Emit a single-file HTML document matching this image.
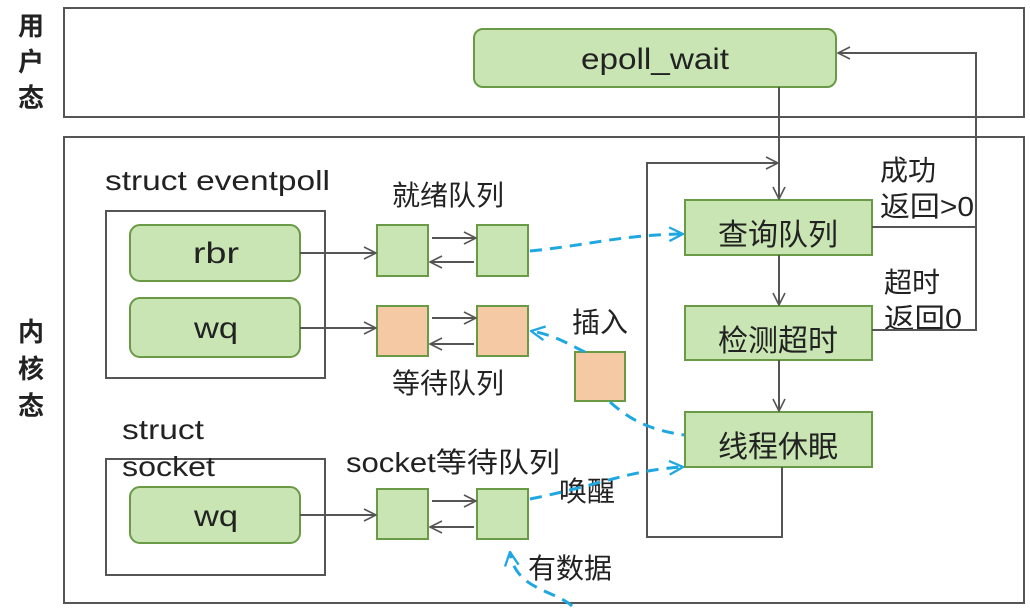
<!DOCTYPE html>
<html><head><meta charset="utf-8"><style>
html,body{margin:0;padding:0;background:#fff;width:1030px;height:610px;overflow:hidden}
text{font-family:"Liberation Sans","Noto Sans CJK SC",sans-serif;fill:#222}
</style></head><body>
<svg width="1030" height="610" viewBox="0 0 1030 610" xmlns="http://www.w3.org/2000/svg">
<defs>
<marker id="a" viewBox="0 0 14 14" refX="13" refY="7" markerWidth="14" markerHeight="14" markerUnits="userSpaceOnUse" orient="auto"><path d="M1,1 L13,7 L1,13" fill="none" stroke="#555" stroke-width="1.6"/></marker>
<marker id="b" viewBox="0 0 14 14" refX="13" refY="7" markerWidth="16" markerHeight="16" markerUnits="userSpaceOnUse" orient="auto"><path d="M1,1 L13,7 L1,13" fill="none" stroke="#1ea7e1" stroke-width="2"/></marker>
</defs>
<g fill="none" stroke="#555" stroke-width="2">
<rect x="64" y="8" width="960" height="109"/>
<rect x="64" y="137" width="960" height="466"/>
<rect x="106" y="211" width="219" height="167"/>
<rect x="106" y="459" width="219" height="116"/>
</g>
<g font-weight="bold" font-size="26" text-anchor="middle">
<text x="31" y="35">用</text><text x="31" y="71">户</text><text x="31" y="107">态</text>
<text x="31" y="341">内</text><text x="31" y="378">核</text><text x="31" y="415">态</text>
</g>
<g fill="#c9e5b3" stroke="#6a9a45" stroke-width="2">
<rect x="474" y="29" width="362" height="58" rx="9"/>
<rect x="130" y="225" width="170" height="56" rx="10"/>
<rect x="130" y="298" width="170" height="59" rx="10"/>
<rect x="130" y="487" width="170" height="56" rx="10"/>
<rect x="685" y="200" width="187" height="55"/>
<rect x="685" y="306" width="187" height="54"/>
<rect x="685" y="412" width="187" height="55"/>
<rect x="377" y="225" width="51" height="51"/>
<rect x="477" y="225" width="51" height="51"/>
<rect x="377" y="489" width="51" height="50"/>
<rect x="477" y="489" width="51" height="50"/>
</g>
<g fill="#f6c9a5" stroke="#6a9a45" stroke-width="2">
<rect x="377" y="306" width="51" height="50"/>
<rect x="477" y="306" width="51" height="50"/>
<rect x="575" y="352" width="50" height="49"/>
</g>
<g font-size="30" text-anchor="middle">
<text x="655" y="69" textLength="148" lengthAdjust="spacingAndGlyphs">epoll_wait</text>
<text x="216" y="263" textLength="46" lengthAdjust="spacingAndGlyphs">rbr</text>
<text x="216" y="338" textLength="44" lengthAdjust="spacingAndGlyphs">wq</text>
<text x="216" y="526" textLength="44" lengthAdjust="spacingAndGlyphs">wq</text>
<text x="778" y="245">查询队列</text>
<text x="778" y="351">检测超时</text>
<text x="778" y="457">线程休眠</text>
</g>
<g font-size="28">
<text x="105" y="190" textLength="225" lengthAdjust="spacingAndGlyphs">struct eventpoll</text>
<text x="122" y="439" textLength="82" lengthAdjust="spacingAndGlyphs">struct</text>
<text x="122" y="476" textLength="93" lengthAdjust="spacingAndGlyphs">socket</text>
<text x="392" y="205">就绪队列</text>
<text x="392" y="393">等待队列</text>
<text x="346" y="472" textLength="214" lengthAdjust="spacingAndGlyphs">socket等待队列</text>
<text x="572" y="332">插入</text>
<text x="559" y="501">唤醒</text>
<text x="528" y="578">有数据</text>
<text x="880" y="180">成功</text>
<text x="880" y="216" textLength="94" lengthAdjust="spacingAndGlyphs">返回&gt;0</text>
<text x="884" y="292">超时</text>
<text x="884" y="328" textLength="78" lengthAdjust="spacingAndGlyphs">返回0</text>
</g>
<g fill="none" stroke="#555" stroke-width="2">
<path d="M300 253 H376" marker-end="url(#a)"/>
<path d="M300 328 H376" marker-end="url(#a)"/>
<path d="M300 515 H376" marker-end="url(#a)"/>
<path d="M432 238 H476" marker-end="url(#a)"/><path d="M474 262 H430" marker-end="url(#a)"/>
<path d="M432 318 H476" marker-end="url(#a)"/><path d="M474 344 H430" marker-end="url(#a)"/>
<path d="M432 501 H476" marker-end="url(#a)"/><path d="M474 527 H430" marker-end="url(#a)"/>
<path d="M779 87 V199" marker-end="url(#a)"/>
<path d="M779 255 V305" marker-end="url(#a)"/>
<path d="M779 360 V411" marker-end="url(#a)"/>
<path d="M782 467 V537 H647 V163 H778" marker-end="url(#a)"/>
<path d="M872 227 H976"/>
<path d="M872 330 H976 V53 H838" marker-end="url(#a)"/>
</g>
<g fill="none" stroke="#1ea7e1" stroke-width="3" stroke-dasharray="12,8">
<path d="M530 251 C590 245, 620 235, 683 234" marker-end="url(#b)"/>
<path d="M585 352 C570 345, 555 335, 531 331" marker-end="url(#b)"/>
<path d="M610 402 C630 420, 650 430, 684 435"/>
<path d="M530 499 C600 485, 630 470, 683 467" marker-end="url(#b)"/>
<path d="M572 606 C555 590, 515 590, 510 552" marker-end="url(#b)"/>
</g>
</svg>
</body></html>
